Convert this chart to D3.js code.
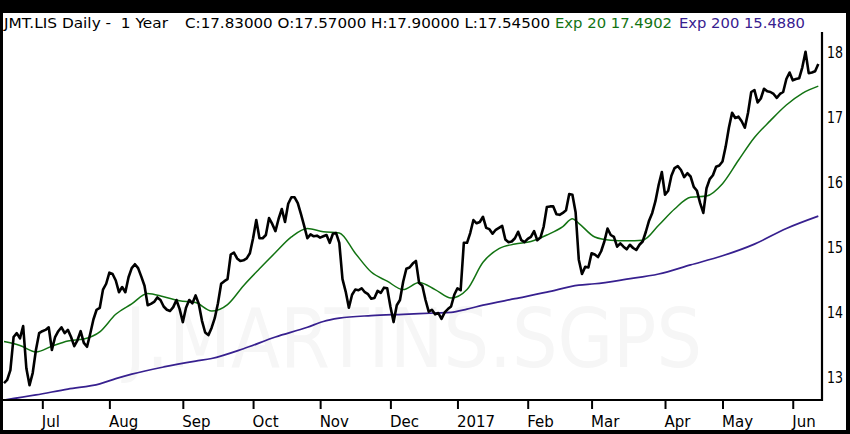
<!DOCTYPE html>
<html lang="en">
<head>
<meta charset="UTF-8">
<title>JMT.LIS Daily</title>
<script src="https://d3js.org/d3.v7.min.js"></script>
<style>
    body { margin: 0; background: #000; }
    svg { display: block; }
    text { font-family: "DejaVu Sans", Verdana, sans-serif; }
</style>
</head>
<body>
<svg id="chart"></svg>
<script>
    // daily closes, one per trading day (15 Jun 2016 .. 13 Jun 2017)
    var closes = [
        12.92, 12.97, 13.12, 13.63, 13.69, 13.61, 13.80, 13.15, 12.89, 13.08,
        13.43, 13.69, 13.72, 13.74, 13.78, 13.43, 13.63, 13.72, 13.78, 13.69,
        13.74, 13.63, 13.49, 13.58, 13.72, 13.54, 13.48, 13.68, 13.90, 14.05,
        14.08, 14.36, 14.45, 14.62, 14.60, 14.50, 14.32, 14.40, 14.32, 14.55,
        14.69, 14.75, 14.69, 14.56, 14.42, 14.12, 14.14, 14.17, 14.24, 14.20,
        14.10, 14.05, 14.03, 14.09, 14.20, 14.06, 13.86, 14.08, 14.20, 14.15,
        14.27, 14.14, 13.88, 13.70, 13.66, 13.77, 13.92, 14.15, 14.45, 14.49,
        14.52, 14.90, 14.93, 14.84, 14.80, 14.81, 14.84, 14.92, 15.15, 15.43,
        15.15, 15.15, 15.20, 15.46, 15.37, 15.26, 15.45, 15.60, 15.40, 15.68,
        15.78, 15.78, 15.69, 15.52, 15.34, 15.15, 15.21, 15.18, 15.19, 15.16,
        15.18, 15.20, 15.08, 15.22, 15.23, 15.08, 14.52, 14.33, 14.08, 14.28,
        14.36, 14.35, 14.38, 14.32, 14.29, 14.22, 14.23, 14.34, 14.31, 14.39,
        14.38, 14.10, 13.86, 14.12, 14.20, 14.48, 14.68, 14.70, 14.76, 14.80,
        14.46, 14.42, 14.20, 14.02, 14.05, 13.98, 14.00, 13.91, 14.01, 14.06,
        14.10, 14.28, 14.38, 14.35, 15.08, 15.08, 15.23, 15.43, 15.38, 15.40,
        15.48, 15.31, 15.29, 15.22, 15.28, 15.31, 15.34, 15.13, 15.09, 15.10,
        15.15, 15.25, 15.12, 15.09, 15.14, 15.17, 15.26, 15.12, 15.16, 15.33,
        15.63, 15.64, 15.64, 15.52, 15.51, 15.54, 15.58, 15.83, 15.82, 15.55,
        14.82, 14.60, 14.71, 14.70, 14.92, 14.90, 14.86, 14.95, 15.10, 15.30,
        15.20, 15.17, 15.02, 15.07, 15.02, 14.98, 15.05, 15.00, 14.97, 15.05,
        15.10, 15.25, 15.42, 15.54, 15.72, 15.97, 16.17, 15.82, 15.88, 16.11,
        16.23, 16.26, 16.20, 16.09, 16.15, 16.10, 15.94, 15.88, 15.69, 15.54,
        15.92, 16.06, 16.12, 16.25, 16.27, 16.33, 16.56, 16.85, 17.08, 17.00,
        17.02, 16.95, 16.85, 17.08, 17.40, 17.43, 17.24, 17.30, 17.45, 17.41,
        17.40, 17.37, 17.31, 17.37, 17.40, 17.60, 17.70, 17.58, 17.60, 17.61,
        17.78, 18.02, 17.69, 17.70, 17.72, 17.83
    ];

    // exponential averages at these trading-day numbers
    var ema20Days = [0, 5, 10, 15, 20, 25, 30, 35, 40, 45, 50, 55, 60, 65, 70, 75, 80, 85, 90, 95,
        100, 105, 110, 115, 120, 125, 130, 135, 140, 145, 150, 155, 160, 165, 170, 175, 178, 180,
        185, 190, 195, 200, 205, 210, 215, 220, 225, 230, 235, 240, 245, 250, 255];
    var ema20 = [13.56, 13.50, 13.40, 13.49, 13.57, 13.60, 13.71, 13.98, 14.14, 14.30, 14.25, 14.19,
        14.16, 14.03, 14.13, 14.42, 14.68, 14.93, 15.17, 15.30, 15.25, 15.23, 14.92, 14.63, 14.49,
        14.36, 14.47, 14.36, 14.23, 14.36, 14.78, 14.99, 15.06, 15.10, 15.20, 15.33, 15.45, 15.38,
        15.17, 15.12, 15.11, 15.12, 15.35, 15.60, 15.78, 15.80, 15.99, 16.35, 16.70, 16.96, 17.20,
        17.38, 17.49];

    var ema200Days = [0, 10, 20, 30, 35, 40, 50, 60, 65, 75, 85, 95, 100, 105, 115, 125, 135, 140,
        145, 150, 160, 170, 180, 185, 195, 205, 215, 225, 235, 245, 255];
    var ema200 = [12.66, 12.74, 12.83, 12.91, 12.99, 13.06, 13.17, 13.26, 13.30, 13.45, 13.63, 13.78,
        13.87, 13.92, 13.96, 13.98, 14.00, 14.01, 14.06, 14.12, 14.22, 14.32, 14.43, 14.45, 14.52,
        14.60, 14.74, 14.88, 15.06, 15.30, 15.49];

    // first trading day of each month
    var monthDays = [12, 33, 56, 78, 99, 121, 142, 164, 184, 207, 225, 247];
    var monthLabels = ["Jul", "Aug", "Sep", "Oct", "Nov", "Dec", "2017", "Feb", "Mar", "Apr", "May", "Jun"];
    var priceTicks = [13, 14, 15, 16, 17, 18];

    var green = "#127312", purple = "#37208f";

    var W = 850, H = 434;
    var plot = {left: 3, right: 822, top: 32, bottom: 400};

    var svg = d3.select("#chart").attr("width", W).attr("height", H);

    // black frame, white card
    svg.append("rect").attr("width", W).attr("height", H).attr("fill", "#000");
    svg.append("rect").attr("x", 3).attr("y", 13).attr("width", 843).attr("height", 417).attr("fill", "#fff");

    var x = d3.scaleLinear().domain([0, closes.length - 1]).range([4, 818.3]);
    var y = d3.scaleLinear().domain([13, 18]).range([378, 53]);

    // watermark
    svg.append("text")
        .attr("x", 125).attr("y", 367)
        .attr("textLength", 577).attr("lengthAdjust", "spacingAndGlyphs")
        .style("font-size", "82px")
        .attr("fill", "#f6f6f6")
        .text("J.MARTINS.SGPS");

    svg.append("clipPath").attr("id", "clip")
        .append("rect")
        .attr("x", plot.left).attr("y", plot.top)
        .attr("width", plot.right - plot.left).attr("height", plot.bottom - plot.top);

    var g = svg.append("g").attr("clip-path", "url(#clip)");

    var smooth = d3.line()
        .x(function(d) { return x(d[0]); })
        .y(function(d) { return y(d[1]); })
        .curve(d3.curveMonotoneX);

    g.append("path")
        .datum(ema200Days.map(function(d, i) { return [d, ema200[i]]; }))
        .attr("d", smooth)
        .attr("fill", "none").attr("stroke", purple).attr("stroke-width", 1.7);

    g.append("path")
        .datum(ema20Days.map(function(d, i) { return [d, ema20[i]]; }))
        .attr("d", smooth)
        .attr("fill", "none").attr("stroke", green).attr("stroke-width", 1.5);

    var priceLine = d3.line()
        .x(function(d, i) { return x(i); })
        .y(function(d) { return y(d); });

    g.append("path")
        .datum(closes)
        .attr("d", priceLine)
        .attr("fill", "none").attr("stroke", "#000")
        .attr("stroke-width", 2.6).attr("stroke-linejoin", "round");

    // axes
    var xAxis = svg.append("g")
        .attr("transform", "translate(0," + plot.bottom + ")")
        .call(d3.axisBottom(x)
            .tickValues(monthDays)
            .tickFormat(function(d, i) { return monthLabels[i]; })
            .tickSize(9).tickSizeOuter(0).tickPadding(7));
    xAxis.select(".domain").remove();
    xAxis.selectAll(".tick line").attr("stroke", "#000").attr("stroke-width", 2);
    xAxis.selectAll(".tick text")
        .attr("text-anchor", "start").attr("dx", "-1")
        .attr("fill", "#000")
        .style("font-size", "15px")
        .style("font-family", "'DejaVu Sans', Verdana, sans-serif");

    var yAxis = svg.append("g")
        .attr("transform", "translate(" + plot.right + ",0)")
        .call(d3.axisRight(y).tickValues(priceTicks).tickFormat(d3.format("d"))
            .tickSize(0).tickPadding(5));
    yAxis.select(".domain").remove();
    yAxis.selectAll(".tick text")
        .attr("fill", "#000")
        .attr("textLength", 16).attr("lengthAdjust", "spacingAndGlyphs")
        .style("font-size", "15px")
        .style("font-family", "'DejaVu Sans', Verdana, sans-serif");

    svg.append("line")
        .attr("x1", plot.left).attr("x2", plot.right + 1)
        .attr("y1", plot.bottom).attr("y2", plot.bottom)
        .attr("stroke", "#000").attr("stroke-width", 2.2);
    svg.append("line")
        .attr("x1", plot.right).attr("x2", plot.right)
        .attr("y1", plot.top).attr("y2", plot.bottom + 1)
        .attr("stroke", "#000").attr("stroke-width", 2.2);

    // header
    var header = [
        {t: "JMT.LIS Daily -  1 Year", x: 4, w: 164, c: "#000"},
        {t: "C:17.83000 O:17.57000 H:17.90000 L:17.54500", x: 185, w: 365, c: "#000"},
        {t: "Exp 20 17.4902", x: 555, w: 117, c: green},
        {t: "Exp 200 15.4880", x: 679, w: 126, c: purple}
    ];
    svg.selectAll(".head")
        .data(header)
        .enter()
        .append("text")
        .attr("class", "head")
        .attr("x", function(d) { return d.x; })
        .attr("y", 28)
        .attr("textLength", function(d) { return d.w; })
        .attr("lengthAdjust", "spacingAndGlyphs")
        .attr("fill", function(d) { return d.c; })
        .style("font-size", "14.5px")
        .style("white-space", "pre")
        .attr("xml:space", "preserve")
        .text(function(d) { return d.t; });
</script>
</body>
</html>
